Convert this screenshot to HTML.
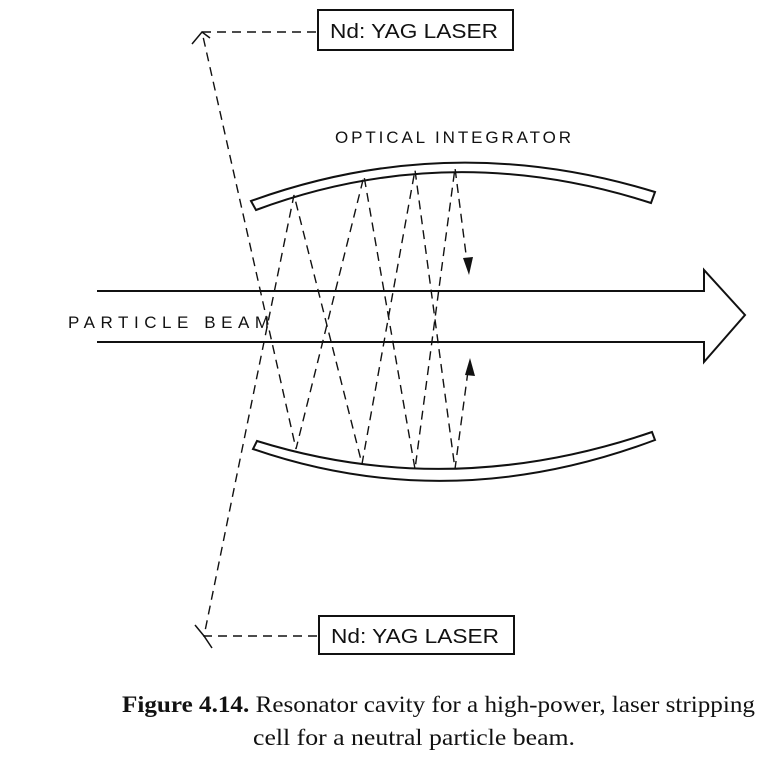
<!DOCTYPE html>
<html><head><meta charset="utf-8"><style>
html,body{margin:0;padding:0;background:#fff;}
svg{display:block;}
.t{font-family:"Liberation Sans",sans-serif;font-size:17px;fill:#111;letter-spacing:1px;}
.b{font-family:"Liberation Sans",sans-serif;font-size:20px;fill:#111;}
.c{font-family:"Liberation Serif",serif;font-size:23px;fill:#111;}
</style></head><body>
<svg width="778" height="766" viewBox="0 0 778 766" xmlns="http://www.w3.org/2000/svg">
<g fill="none" stroke="#111" stroke-width="2">
<rect x="318" y="10" width="195" height="40"/>
<rect x="319" y="616" width="195" height="38"/>
<path d="M251,201 Q450,129 655,192 L651,203 Q450,138 256,210 Z"/>
<path d="M257,441 Q450,501 652,432 L655,440 Q450,517 253,449 Z"/>
<path d="M97,291 L704,291 L704,270 L745,315 L704,362 L704,342 L97,342"/>
</g>
<g fill="none" stroke="#111" stroke-width="1.4" stroke-dasharray="9,6">
<path d="M316,32 L202,32 L296,449 L364,176 L415,469 L455,168 L467,262"/>
<path d="M317,636 L204,636 L294,195 L362,464 L415,170 L455,469 L468,371"/>
</g>
<g fill="none" stroke="#111" stroke-width="1.5">
<path d="M192,44 L202,32 L210,38"/>
<path d="M195,625 L204,636 L212,648"/>
</g>
<polygon points="469,275 463,258 473,257" fill="#111"/>
<polygon points="470,358 465,375 475,376" fill="#111"/>
<text class="b" x="330" y="38" textLength="168" lengthAdjust="spacingAndGlyphs">Nd: YAG LASER</text>
<text class="b" x="331" y="643" textLength="168" lengthAdjust="spacingAndGlyphs">Nd: YAG LASER</text>
<text class="t" x="335" y="143" textLength="237">OPTICAL INTEGRATOR</text>
<text class="t" x="68" y="328" textLength="202">PARTICLE BEAM</text>
<text class="c" x="122" y="712" textLength="633" lengthAdjust="spacingAndGlyphs"><tspan font-weight="bold">Figure 4.14.</tspan> Resonator cavity for a high-power, laser stripping</text>
<text class="c" x="253" y="745" textLength="322" lengthAdjust="spacingAndGlyphs">cell for a neutral particle beam.</text>
</svg>
</body></html>
